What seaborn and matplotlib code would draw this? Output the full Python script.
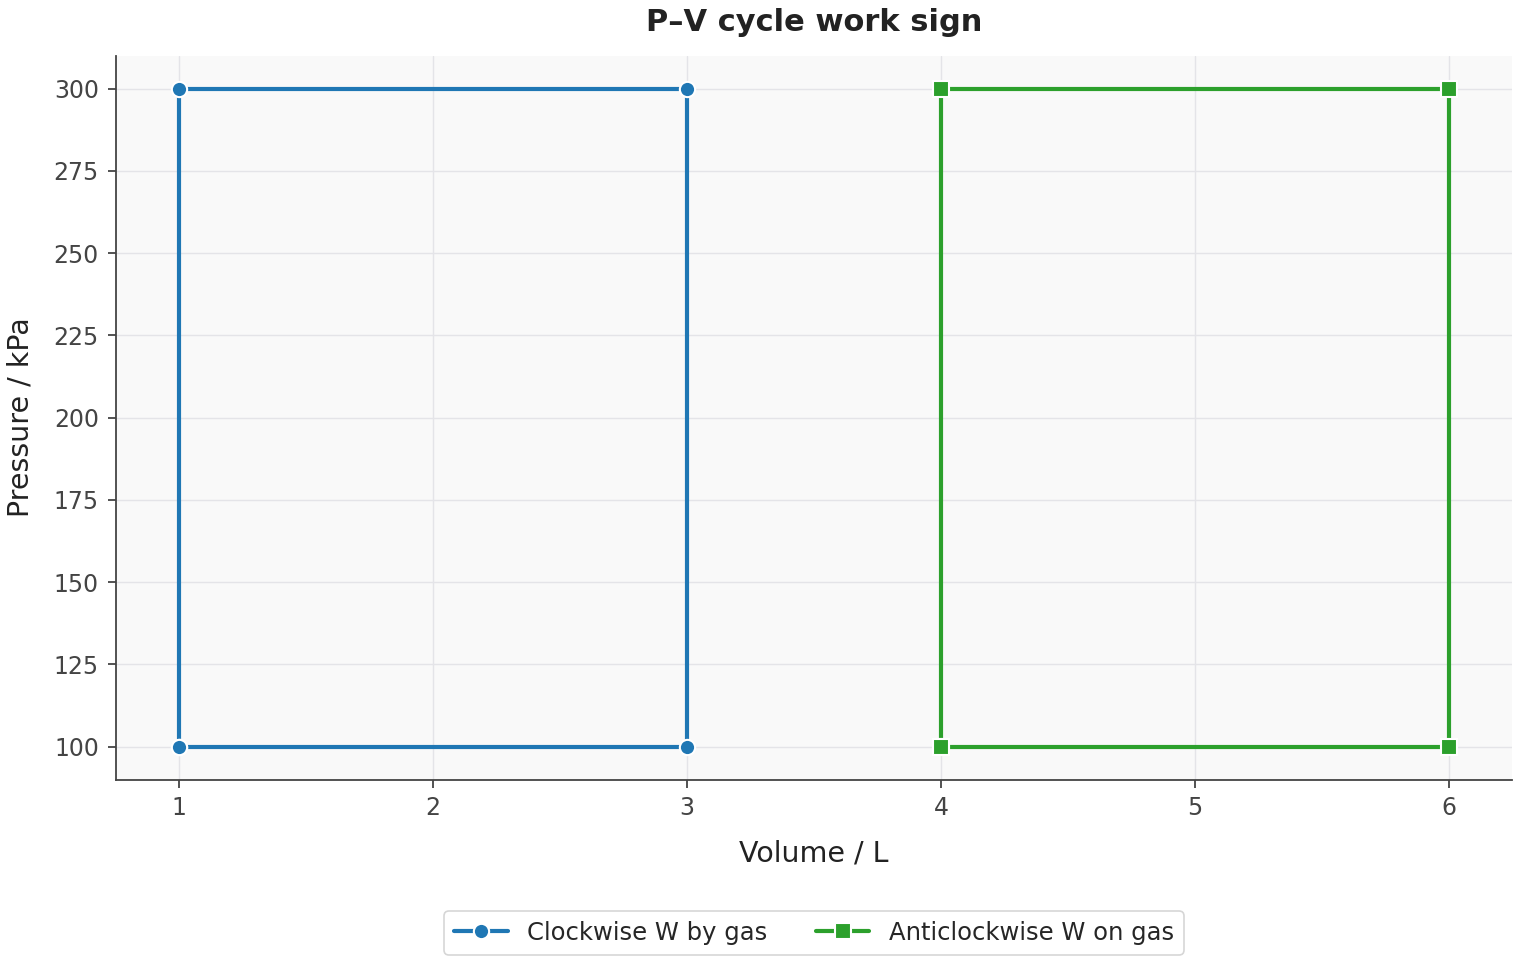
import matplotlib
matplotlib.use("Agg")
import matplotlib.pyplot as plt
import seaborn as sns
import pandas as pd

cw_volume = [1, 1, 3, 3, 1]
cw_pressure = [100, 300, 300, 100, 100]
acw_volume = [4, 6, 6, 4, 4]
acw_pressure = [100, 100, 300, 300, 100]
series_names = ["Clockwise W by gas", "Anticlockwise W on gas"]

sns.set_theme(style="ticks")
plt.rcParams['font.family'] = ['DejaVu Sans']

fig, ax = plt.subplots(figsize=(15.2, 9.6), dpi=100)
fig.subplots_adjust(left=0.076, right=0.995, top=0.942, bottom=0.188)
ax.set_facecolor("#f9f9f9")

df1 = pd.DataFrame({"V": cw_volume, "P": cw_pressure})
df2 = pd.DataFrame({"V": acw_volume, "P": acw_pressure})

sns.lineplot(data=df1, x="V", y="P", sort=False, estimator=None, errorbar=None,
             color="#1f77b4", linewidth=3,
             marker="o", markersize=11, markeredgecolor="white", markeredgewidth=1.5,
             label=series_names[0], ax=ax, zorder=3)
sns.lineplot(data=df2, x="V", y="P", sort=False, estimator=None, errorbar=None,
             color="#2ca02c", linewidth=3,
             marker="s", markersize=11, markeredgecolor="white", markeredgewidth=1.5,
             label=series_names[1], ax=ax, zorder=3)

ax.set_xlim(0.75, 6.25)
ax.set_ylim(90, 310)
ax.set_xticks([1, 2, 3, 4, 5, 6])
ax.set_yticks([100, 125, 150, 175, 200, 225, 250, 275, 300])
ax.grid(True, color="#e4e4e8", linewidth=1)
ax.set_axisbelow(True)
for s in ["top", "right"]:
    ax.spines[s].set_visible(False)
for s in ["left", "bottom"]:
    ax.spines[s].set_color("#444444")
    ax.spines[s].set_linewidth(1.3)
ax.tick_params(axis="both", labelsize=17, colors="#444444", length=6, width=1.3,
               labelcolor="#444444", pad=6)

ax.set_xlabel("Volume / L", fontsize=20.5, color="#222222", labelpad=14)
ax.set_ylabel("Pressure / kPa", fontsize=20.5, color="#222222", labelpad=14)
ax.set_title("P–V cycle work sign", fontsize=22, fontweight="bold", color="#222222", pad=18)

leg = ax.legend(loc="upper center", bbox_to_anchor=(0.5, -0.165), ncol=2, fontsize=17.5,
                frameon=True, handlelength=2.2, columnspacing=2.0)
leg.get_frame().set_edgecolor("#cccccc")
leg.get_frame().set_linewidth(1.2)

fig.savefig("out.png", dpi=100)
